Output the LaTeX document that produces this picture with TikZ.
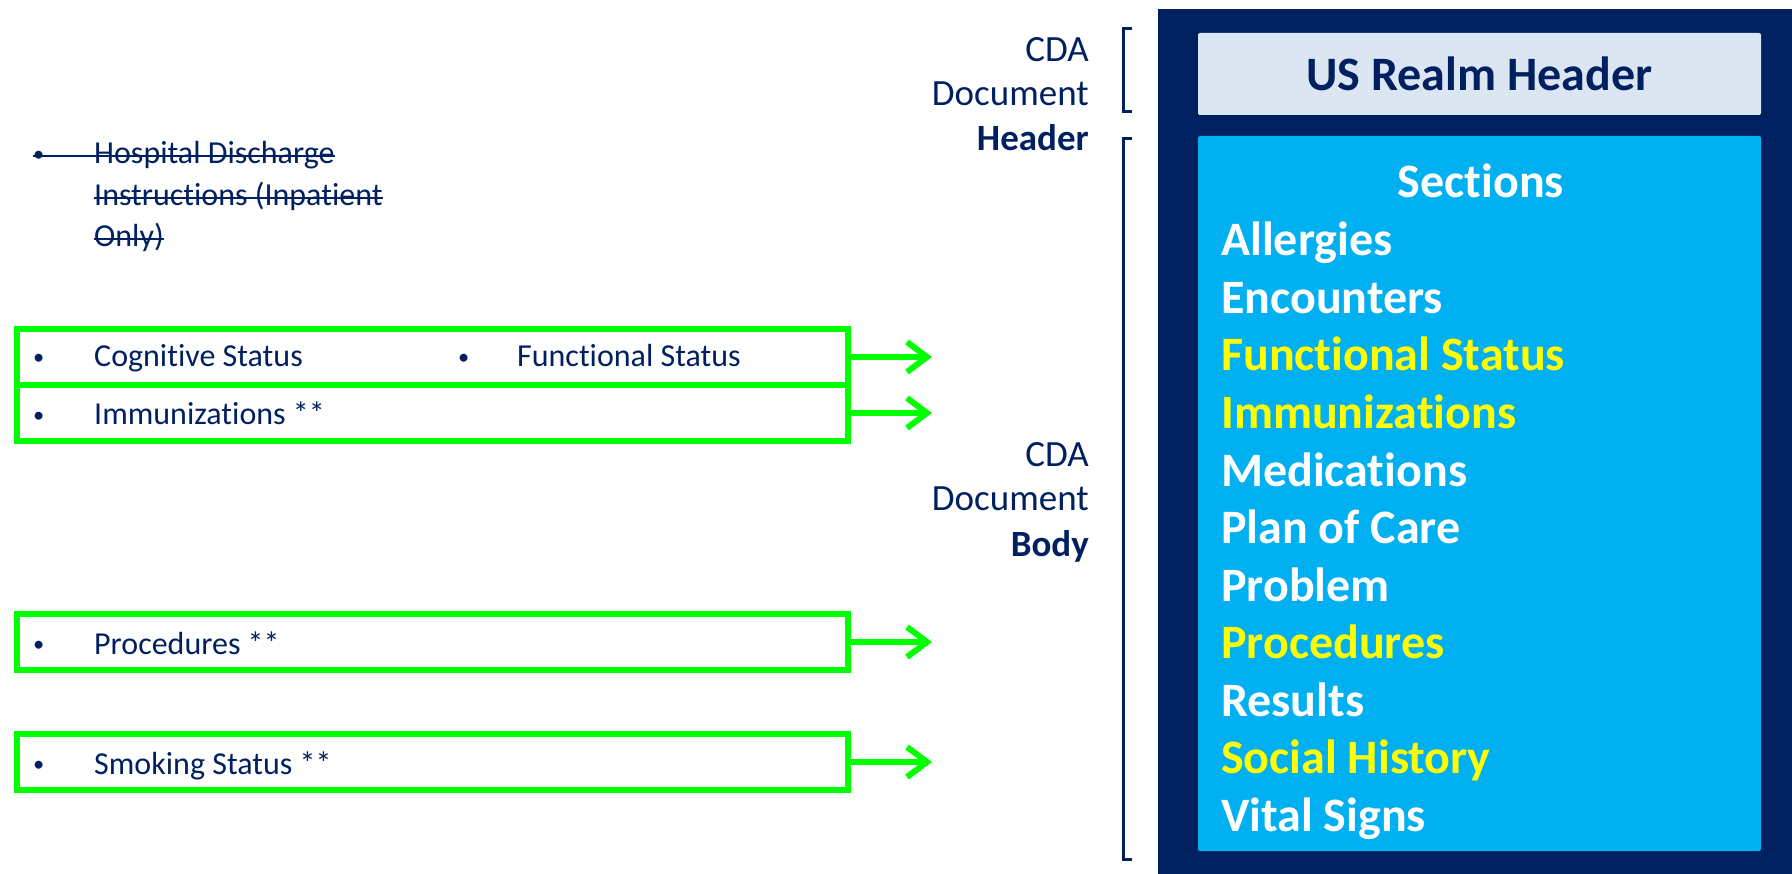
\documentclass[tikz,border=0pt]{standalone}
\usepackage{fontspec}
\setmainfont{Carlito}[Ligatures=NoCommon,RawFeature={-liga;-calt}]
\usetikzlibrary{arrows.meta}
\definecolor{navy}{RGB}{0,32,96}
\definecolor{cyanbox}{RGB}{0,176,240}
\definecolor{hdrbox}{RGB}{220,230,242}
\definecolor{gr}{RGB}{0,255,0}
\definecolor{yel}{RGB}{255,255,0}
\newcommand{\smallbul}{\raisebox{2.5pt}{\scalebox{0.7}{\textbullet}}}
\tikzset{
  sectitem/.style={anchor=base west, text=white, font=\fontsize{48}{57}\selectfont\bfseries, inner sep=0pt},
  hl/.style={text=yel},
  lbl/.style={anchor=base east, text=navy, font=\fontsize{37}{44}\selectfont, inner sep=0pt},
  gbox/.style={draw=gr, line width=6pt, minimum width=831pt, minimum height=56pt, anchor=north west, inner sep=0pt, outer sep=0pt},
  gtext/.style={anchor=base west, text=navy, font=\fontsize{32}{38}\selectfont, inner sep=0pt},
  strk/.style={anchor=base west, text=navy, font=\fontsize{32}{42}\selectfont, inner sep=0pt},
  strikeline/.style={draw=navy, line width=2pt},
  garrow/.style={draw=gr, line width=6pt, -{Straight Barb[length=20pt,width=30pt]}},
  bracket/.style={draw=navy, line width=3pt},
}
\begin{document}
\begin{tikzpicture}[x=1pt,y=-1pt]
\useasboundingbox (0,0) rectangle (1792,874);
% right panel
\node (dark) [fill=navy, anchor=north west, minimum width=634pt, minimum height=865pt, inner sep=0pt, outer sep=0pt] at (1158,9) {};
\node (hdr) [fill=hdrbox, rounded corners=2pt, anchor=north west, minimum width=563pt, minimum height=82pt, inner sep=0pt, outer sep=0pt, text=navy, font=\fontsize{48}{57}\selectfont\bfseries] at (1198,33) {US Realm Header};
\node (sec) [fill=cyanbox, rounded corners=2pt, anchor=north west, minimum width=563pt, minimum height=715pt, inner sep=0pt, outer sep=0pt] at (1198,136) {};
\node (sectitle) [anchor=base, text=white, font=\fontsize{48}{57}\selectfont\bfseries, inner sep=0pt] at (1481,198) {Sections};
\node (s1) [sectitem] at (1221,256) {Allergies};
\node (s2) [sectitem] at (1221,313.5) {Encounters};
\node (s3) [sectitem,hl] at (1221,371) {Functional Status};
\node (s4) [sectitem,hl] at (1221,428.5) {Immunizations};
\node (s5) [sectitem] at (1221,486) {Medications};
\node (s6) [sectitem] at (1221,543.5) {Plan of Care};
\node (s7) [sectitem] at (1221,601) {Problem};
\node (s8) [sectitem,hl] at (1221,658.5) {Procedures};
\node (s9) [sectitem] at (1221,716) {Results};
\node (s10) [sectitem,hl] at (1221,773.5) {Social History};
\node (s11) [sectitem] at (1221,831) {Vital Signs};
% left labels
\node (h1) [lbl] at (1089,62) {CDA};
\node (h2) [lbl] at (1089,106) {Document};
\node (h3) [lbl, font=\fontsize{37}{44}\selectfont\bfseries] at (1089,151) {Header};
\node (b1) [lbl] at (1089,467) {CDA};
\node (b2) [lbl] at (1089,511) {Document};
\node (b3) [lbl, font=\fontsize{37}{44}\selectfont\bfseries] at (1089,556) {Body};
% brackets
\draw[bracket] (1132,29) -- (1123,29) -- (1123,112) -- (1132,112);
\draw[bracket] (1132,139) -- (1123,139) -- (1123,859) -- (1132,859);
% struck text
\node (hd1) [strk] at (33,164) {\makebox[61pt][l]{\smallbul}Hospital Discharge};
\node (hd2) [strk] at (94,206) {Instructions (Inpatient};
\node (hd3) [strk] at (94,247) {Only)};
\draw[strikeline] ([yshift=8pt]hd1.base west) -- ([yshift=8pt]hd1.base east);
\draw[strikeline] ([yshift=8pt]hd2.base west) -- ([yshift=8pt]hd2.base east);
\draw[strikeline] ([yshift=8pt]hd3.base west) -- ([yshift=8pt]hd3.base east);
% green boxes
\node (g1) [gbox] at (17,329) {};
\node (g2) [gbox] at (17,385) {};
\node (g3) [gbox] at (17,614) {};
\node (g4) [gbox] at (17,734) {};
\node (t1b) [gtext] at (33,367) {\smallbul};
\node (t1) [gtext] at (94,367) {Cognitive Status};
\node (t1cb) [gtext] at (458,367) {\smallbul};
\node (t1c) [gtext] at (517,367) {Functional Status};
\node (t2b) [gtext] at (33,425) {\smallbul};
\node (t2) [gtext] at (94,425) {Immunizations **};
\node (t3b) [gtext] at (33,654) {\smallbul};
\node (t3) [gtext] at (94,654) {Procedures **};
\node (t4b) [gtext] at (33,774) {\smallbul};
\node (t4) [gtext] at (94,774) {Smoking Status **};
% arrows
\coordinate (a1) at (932,357);
\coordinate (a2) at (932,413);
\coordinate (a3) at (932,642);
\coordinate (a4) at (932,762);
\draw[garrow] (g1.east) -- (a1);
\draw[garrow] (g2.east) -- (a2);
\draw[garrow] (g3.east) -- (a3);
\draw[garrow] (g4.east) -- (a4);
\end{tikzpicture}
\end{document}
